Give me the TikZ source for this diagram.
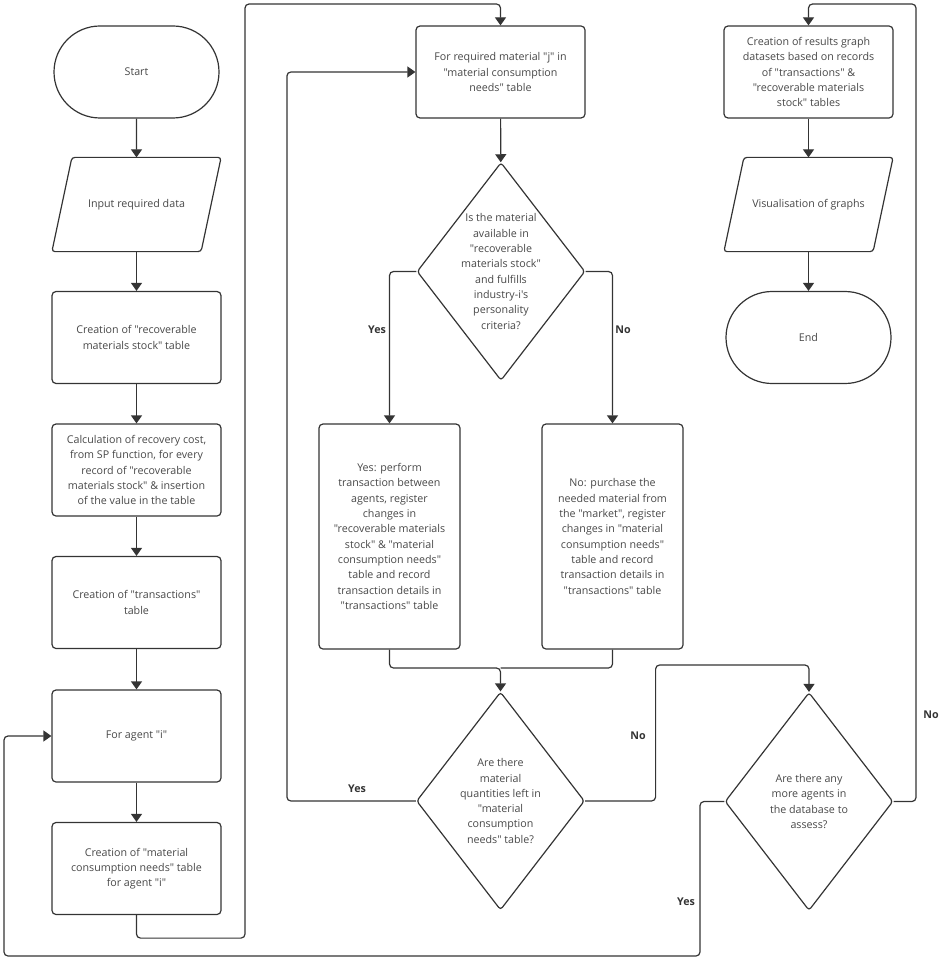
\documentclass[tikz,border=0pt]{standalone}
\usepackage{fontspec}
\setmainfont{Open Sans}[Ligatures=TeXOff]
\usetikzlibrary{arrows.meta,shapes.geometric,shapes.misc}
\definecolor{fLine}{RGB}{52,52,52}
\definecolor{fText}{RGB}{72,72,72}

\begin{document}
\begin{tikzpicture}[
			x=1pt,y=-1pt,
			font=\fontsize{10.7}{15.3}\selectfont,
			base/.style={
				draw=fLine,
				line width=1.2pt,
				text=fText,
				align=center,
				inner sep=2pt
			},
			procbox/.style={base,rectangle,rounded corners=4pt,minimum width=169pt,minimum height=92pt},
			termbox/.style={base,rounded rectangle,minimum width=169pt,minimum height=92pt},
			iobox/.style={base,draw=none,rectangle,minimum width=168pt,minimum height=93pt},
			slanted/.style={draw=fLine,line width=1.2pt,rounded corners=3pt},
			decbox/.style={base,diamond,rounded corners=3pt,inner sep=-2pt,shape aspect=0.77,
				minimum width=168pt,minimum height=218pt},
			link/.style={draw=fLine,line width=1.2pt,rounded corners=4pt},
			flow/.style={link,-{Triangle[width=11pt,length=8pt]}},
			ans/.style={font=\fontsize{10.7}{15.3}\selectfont\bfseries,text=fLine}
			]
			\useasboundingbox (0,0) rectangle (941,960);

			% left column
			\node[termbox] (start) at (136.5,72) {Start};
			\node[iobox] (input) at (136.5,204.5) {Input required data};
			\node[procbox] (stock) at (136.5,337.5) {Creation of "recoverable\\materials stock" table};
			\node[procbox] (calc) at (136.5,470) {Calculation of recovery cost,\\from SP function, for every\\record of "recoverable\\materials stock" \& insertion\\of the value in the table};
			\node[procbox] (trans) at (136.5,602.5) {Creation of "transactions"\\table};
			\node[procbox] (agent) at (136.5,736) {For agent "i"};
			\node[procbox] (needs) at (136.5,868.5) {Creation of "material\\consumption needs" table\\for agent "i"};

			% middle column
			\node[procbox] (matj) at (500.5,72) {For required material "j" in\\"material consumption\\needs" table};
			\node[decbox] (avail) at (501,271.5) {Is the material\\available in\\"recoverable\\materials stock"\\and fulfills\\industry-i's\\personality\\criteria?};
			\node[procbox,minimum width=141pt,minimum height=225pt] (yesbox) at (389.5,536.5) {Yes: perform\\transaction between\\agents, register\\changes in\\"recoverable materials\\stock" \& "material\\consumption needs"\\table and record\\transaction details in\\"transactions" table};
			\node[procbox,minimum width=141pt,minimum height=225pt] (nobox) at (612.5,536.5) {No: purchase the\\needed material from\\the "market", register\\changes in "material\\consumption needs"\\table and record\\transaction details in\\"transactions" table};
			\node[decbox] (left) at (500.5,801) {Are there\\material\\quantities left in\\"material\\consumption\\needs" table?};

			% right column
			\node[procbox] (results) at (808.5,72) {Creation of results graph\\datasets based on records\\of "transactions" \&\\"recoverable materials\\stock" tables};
			\node[iobox] (visual) at (808.5,204.5) {Visualisation of graphs};
			\node[termbox] (end) at (808.5,337.5) {End};
			\node[decbox] (more) at (809,801.5) {Are there any\\more agents in\\the database to\\assess?};

			% input / output outlines
			\foreach \io in {input,visual}
				\draw[slanted] ([xshift=20pt]\io.north west) -- (\io.north east)
					-- ([xshift=-20pt]\io.south east) -- (\io.south west) -- cycle;

			% branch labels
			\node[ans] (yesA) at (377,330) {Yes};
			\node[ans] (noA) at (623,330) {No};
			\node[ans] (yesB) at (357,789) {Yes};
			\node[ans] (noB) at (638,736) {No};
			\node[ans] (noC) at (931,715) {No};
			\node[ans] (yesC) at (686,902) {Yes};

			% connectors
			\draw[flow] (start) -- (input);
			\draw[flow] (input) -- (stock);
			\draw[flow] (stock) -- (calc);
			\draw[flow] (calc) -- (trans);
			\draw[flow] (trans) -- (agent);
			\draw[flow] (agent) -- (needs);
			\draw[flow] (needs.south) -- ++(0,23) -| (245,4) -| (matj.north);
			\draw[flow] (matj) -- (avail);
			\draw[flow] (avail.west) -| (yesbox.north);
			\draw[flow] (avail.east) -| (nobox.north);
			\coordinate (merge) at (500.5,668);
			\draw[flow] (yesbox.south) |- (merge) -- (left.north);
			\draw[link] (nobox.south) |- (merge);
			\draw[flow] (left.west) -- ++(-129,0) |- (matj.west);
			\draw[flow] (left.east) -- ++(70.5,0) -- ++(0,-136) -| (more.north);
			\draw[flow] (more.east) -| (916,4) -| (results.north);
			\draw[flow] (more.west) -| (700,956) -- (4,956) |- (agent.west);
			\draw[flow] (results) -- (visual);
			\draw[flow] (visual) -- (end);
		\end{tikzpicture}
\end{document}
